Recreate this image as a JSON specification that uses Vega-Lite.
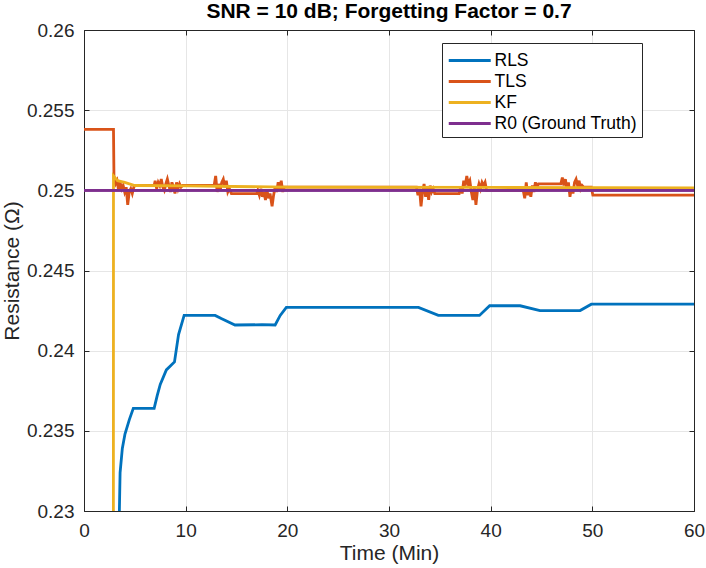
{
  "$schema": "https://vega.github.io/schema/vega-lite/v6.json",
  "width": 610,
  "height": 481,
  "autosize": {"type": "none"},
  "padding": {"left": 84, "top": 30, "right": 12, "bottom": 57},
  "background": "white",
  "title": {
    "text": "SNR = 10 dB; Forgetting Factor = 0.7",
    "font": "Liberation Sans",
    "fontSize": 21,
    "fontWeight": "bold",
    "color": "#000000",
    "anchor": "middle",
    "offset": -1
  },
  "config": {
    "font": "Liberation Sans",
    "view": {"stroke": "#262626", "strokeWidth": 1},
    "axis": {
      "domainColor": "#262626",
      "tickColor": "#262626",
      "labelColor": "#262626",
      "titleColor": "#262626",
      "gridColor": "#e6e6e6",
      "labelFont": "Liberation Sans",
      "titleFont": "Liberation Sans",
      "labelFontSize": 19,
      "titleFontSize": 21,
      "titleFontWeight": "normal",
      "labelFlush": false,
      "tickSize": -5
    }
  },
  "data": {
    "values": [
      {"t": 0, "r": 0.2, "s": "RLS"},
      {"t": 3.35, "r": 0.2, "s": "RLS"},
      {"t": 3.45, "r": 0.229, "s": "RLS"},
      {"t": 3.55, "r": 0.2324, "s": "RLS"},
      {"t": 3.77, "r": 0.2339, "s": "RLS"},
      {"t": 4.03, "r": 0.2348, "s": "RLS"},
      {"t": 4.46, "r": 0.2357, "s": "RLS"},
      {"t": 4.85, "r": 0.2364, "s": "RLS"},
      {"t": 6.9, "r": 0.2364, "s": "RLS"},
      {"t": 7.2, "r": 0.2372, "s": "RLS"},
      {"t": 7.5, "r": 0.2379, "s": "RLS"},
      {"t": 8.1, "r": 0.2388, "s": "RLS"},
      {"t": 8.9, "r": 0.2393, "s": "RLS"},
      {"t": 9.3, "r": 0.241, "s": "RLS"},
      {"t": 9.85, "r": 0.2422, "s": "RLS"},
      {"t": 12.9, "r": 0.2422, "s": "RLS"},
      {"t": 13.5, "r": 0.242, "s": "RLS"},
      {"t": 14.85, "r": 0.2416, "s": "RLS"},
      {"t": 17.5, "r": 0.24162, "s": "RLS"},
      {"t": 18.8, "r": 0.2416, "s": "RLS"},
      {"t": 19.3, "r": 0.2422, "s": "RLS"},
      {"t": 19.9, "r": 0.2427, "s": "RLS"},
      {"t": 32.9, "r": 0.2427, "s": "RLS"},
      {"t": 34.85, "r": 0.2422, "s": "RLS"},
      {"t": 38.9, "r": 0.2422, "s": "RLS"},
      {"t": 39.9, "r": 0.2428, "s": "RLS"},
      {"t": 42.9, "r": 0.2428, "s": "RLS"},
      {"t": 44.85, "r": 0.2425, "s": "RLS"},
      {"t": 48.8, "r": 0.2425, "s": "RLS"},
      {"t": 49.9, "r": 0.2429, "s": "RLS"},
      {"t": 60, "r": 0.2429, "s": "RLS"},

      {"t": 0, "r": 0.2538, "s": "TLS"},
      {"t": 2.9, "r": 0.2538, "s": "TLS"},
      {"t": 2.95, "r": 0.2507, "s": "TLS"},
      {"t": 3.1, "r": 0.2504, "s": "TLS"},
      {"t": 3.25, "r": 0.2506, "s": "TLS"},
      {"t": 3.4, "r": 0.25, "s": "TLS"},
      {"t": 3.55, "r": 0.2505, "s": "TLS"},
      {"t": 3.7, "r": 0.2501, "s": "TLS"},
      {"t": 3.85, "r": 0.2503, "s": "TLS"},
      {"t": 4.0, "r": 0.2499, "s": "TLS"},
      {"t": 4.15, "r": 0.2502, "s": "TLS"},
      {"t": 4.3, "r": 0.2491, "s": "TLS"},
      {"t": 4.45, "r": 0.2499, "s": "TLS"},
      {"t": 4.6, "r": 0.2501, "s": "TLS"},
      {"t": 4.75, "r": 0.2498, "s": "TLS"},
      {"t": 4.9, "r": 0.2502, "s": "TLS"},
      {"t": 5.0, "r": 0.2503, "s": "TLS"},
      {"t": 6.9, "r": 0.2503, "s": "TLS"},
      {"t": 7.0, "r": 0.2506, "s": "TLS"},
      {"t": 7.15, "r": 0.2501, "s": "TLS"},
      {"t": 7.3, "r": 0.2505, "s": "TLS"},
      {"t": 7.45, "r": 0.2503, "s": "TLS"},
      {"t": 7.6, "r": 0.2507, "s": "TLS"},
      {"t": 7.75, "r": 0.2502, "s": "TLS"},
      {"t": 7.9, "r": 0.25, "s": "TLS"},
      {"t": 8.05, "r": 0.2504, "s": "TLS"},
      {"t": 8.2, "r": 0.2507, "s": "TLS"},
      {"t": 8.35, "r": 0.2503, "s": "TLS"},
      {"t": 8.5, "r": 0.2499, "s": "TLS"},
      {"t": 8.65, "r": 0.2505, "s": "TLS"},
      {"t": 8.8, "r": 0.2502, "s": "TLS"},
      {"t": 8.95, "r": 0.2498, "s": "TLS"},
      {"t": 9.1, "r": 0.2505, "s": "TLS"},
      {"t": 9.25, "r": 0.2501, "s": "TLS"},
      {"t": 9.4, "r": 0.2504, "s": "TLS"},
      {"t": 9.55, "r": 0.2502, "s": "TLS"},
      {"t": 9.7, "r": 0.2503, "s": "TLS"},
      {"t": 12.8, "r": 0.2503, "s": "TLS"},
      {"t": 12.95, "r": 0.2509, "s": "TLS"},
      {"t": 13.1, "r": 0.2499, "s": "TLS"},
      {"t": 13.25, "r": 0.2504, "s": "TLS"},
      {"t": 13.4, "r": 0.25, "s": "TLS"},
      {"t": 13.55, "r": 0.2505, "s": "TLS"},
      {"t": 13.7, "r": 0.2507, "s": "TLS"},
      {"t": 13.85, "r": 0.2502, "s": "TLS"},
      {"t": 14.0, "r": 0.2506, "s": "TLS"},
      {"t": 14.15, "r": 0.2499, "s": "TLS"},
      {"t": 14.3, "r": 0.2501, "s": "TLS"},
      {"t": 14.5, "r": 0.2498, "s": "TLS"},
      {"t": 17.0, "r": 0.2498, "s": "TLS"},
      {"t": 17.1, "r": 0.25, "s": "TLS"},
      {"t": 17.25, "r": 0.2497, "s": "TLS"},
      {"t": 17.4, "r": 0.2501, "s": "TLS"},
      {"t": 17.55, "r": 0.2496, "s": "TLS"},
      {"t": 17.7, "r": 0.2499, "s": "TLS"},
      {"t": 17.85, "r": 0.2494, "s": "TLS"},
      {"t": 18.0, "r": 0.25, "s": "TLS"},
      {"t": 18.15, "r": 0.2495, "s": "TLS"},
      {"t": 18.3, "r": 0.2498, "s": "TLS"},
      {"t": 18.5, "r": 0.249, "s": "TLS"},
      {"t": 18.65, "r": 0.2497, "s": "TLS"},
      {"t": 18.8, "r": 0.2502, "s": "TLS"},
      {"t": 18.95, "r": 0.2499, "s": "TLS"},
      {"t": 19.1, "r": 0.2505, "s": "TLS"},
      {"t": 19.25, "r": 0.25, "s": "TLS"},
      {"t": 19.4, "r": 0.2506, "s": "TLS"},
      {"t": 19.55, "r": 0.2499, "s": "TLS"},
      {"t": 19.7, "r": 0.2502, "s": "TLS"},
      {"t": 32.7, "r": 0.2502, "s": "TLS"},
      {"t": 32.85, "r": 0.2497, "s": "TLS"},
      {"t": 33.0, "r": 0.2501, "s": "TLS"},
      {"t": 33.15, "r": 0.249, "s": "TLS"},
      {"t": 33.3, "r": 0.2499, "s": "TLS"},
      {"t": 33.45, "r": 0.2504, "s": "TLS"},
      {"t": 33.6, "r": 0.2496, "s": "TLS"},
      {"t": 33.75, "r": 0.2502, "s": "TLS"},
      {"t": 33.9, "r": 0.2494, "s": "TLS"},
      {"t": 34.05, "r": 0.2503, "s": "TLS"},
      {"t": 34.2, "r": 0.2499, "s": "TLS"},
      {"t": 34.35, "r": 0.2501, "s": "TLS"},
      {"t": 34.5, "r": 0.2498, "s": "TLS"},
      {"t": 36.9, "r": 0.2498, "s": "TLS"},
      {"t": 37.05, "r": 0.2502, "s": "TLS"},
      {"t": 37.2, "r": 0.2498, "s": "TLS"},
      {"t": 37.35, "r": 0.2506, "s": "TLS"},
      {"t": 37.5, "r": 0.2503, "s": "TLS"},
      {"t": 37.65, "r": 0.2509, "s": "TLS"},
      {"t": 37.8, "r": 0.2504, "s": "TLS"},
      {"t": 37.95, "r": 0.2506, "s": "TLS"},
      {"t": 38.1, "r": 0.2499, "s": "TLS"},
      {"t": 38.25, "r": 0.2494, "s": "TLS"},
      {"t": 38.4, "r": 0.2502, "s": "TLS"},
      {"t": 38.55, "r": 0.2491, "s": "TLS"},
      {"t": 38.7, "r": 0.25, "s": "TLS"},
      {"t": 38.85, "r": 0.2504, "s": "TLS"},
      {"t": 39.0, "r": 0.2501, "s": "TLS"},
      {"t": 39.15, "r": 0.2505, "s": "TLS"},
      {"t": 39.3, "r": 0.2503, "s": "TLS"},
      {"t": 39.45, "r": 0.2505, "s": "TLS"},
      {"t": 39.6, "r": 0.25, "s": "TLS"},
      {"t": 43.2, "r": 0.25, "s": "TLS"},
      {"t": 43.35, "r": 0.2495, "s": "TLS"},
      {"t": 43.5, "r": 0.2505, "s": "TLS"},
      {"t": 43.65, "r": 0.2497, "s": "TLS"},
      {"t": 43.8, "r": 0.2501, "s": "TLS"},
      {"t": 43.95, "r": 0.2496, "s": "TLS"},
      {"t": 44.1, "r": 0.2503, "s": "TLS"},
      {"t": 44.25, "r": 0.2499, "s": "TLS"},
      {"t": 44.4, "r": 0.2505, "s": "TLS"},
      {"t": 44.55, "r": 0.2502, "s": "TLS"},
      {"t": 44.7, "r": 0.2504, "s": "TLS"},
      {"t": 46.9, "r": 0.2504, "s": "TLS"},
      {"t": 47.05, "r": 0.2508, "s": "TLS"},
      {"t": 47.2, "r": 0.2503, "s": "TLS"},
      {"t": 47.35, "r": 0.2507, "s": "TLS"},
      {"t": 47.5, "r": 0.2501, "s": "TLS"},
      {"t": 47.65, "r": 0.2505, "s": "TLS"},
      {"t": 47.8, "r": 0.2496, "s": "TLS"},
      {"t": 47.95, "r": 0.2502, "s": "TLS"},
      {"t": 48.1, "r": 0.2498, "s": "TLS"},
      {"t": 48.25, "r": 0.2505, "s": "TLS"},
      {"t": 48.4, "r": 0.2507, "s": "TLS"},
      {"t": 48.55, "r": 0.2503, "s": "TLS"},
      {"t": 48.7, "r": 0.2506, "s": "TLS"},
      {"t": 48.85, "r": 0.2501, "s": "TLS"},
      {"t": 49.0, "r": 0.2503, "s": "TLS"},
      {"t": 49.15, "r": 0.2502, "s": "TLS"},
      {"t": 49.9, "r": 0.2502, "s": "TLS"},
      {"t": 50.05, "r": 0.2497, "s": "TLS"},
      {"t": 60, "r": 0.2497, "s": "TLS"},

      {"t": 0, "r": 0.2, "s": "KF"},
      {"t": 2.88, "r": 0.2, "s": "KF"},
      {"t": 2.9, "r": 0.2509, "s": "KF"},
      {"t": 3.3, "r": 0.2506, "s": "KF"},
      {"t": 4.0, "r": 0.2505, "s": "KF"},
      {"t": 5.0, "r": 0.2503, "s": "KF"},
      {"t": 10, "r": 0.25028, "s": "KF"},
      {"t": 20, "r": 0.2502, "s": "KF"},
      {"t": 40, "r": 0.25018, "s": "KF"},
      {"t": 60, "r": 0.25015, "s": "KF"},

      {"t": 0, "r": 0.25, "s": "R0 (Ground Truth)"},
      {"t": 60, "r": 0.25, "s": "R0 (Ground Truth)"}
    ]
  },
  "layer": [
    {
      "mark": {"type": "line", "clip": true, "strokeWidth": 2.8},
      "encoding": {
        "x": {
          "field": "t",
          "type": "quantitative",
          "title": "Time (Min)",
          "scale": {"domain": [0, 60], "nice": false},
          "axis": {"values": [0, 10, 20, 30, 40, 50, 60], "grid": true, "labelPadding": 15, "titlePadding": 2}
        },
        "y": {
          "field": "r",
          "type": "quantitative",
          "title": "Resistance (Ω)",
          "scale": {"domain": [0.23, 0.26], "nice": false, "zero": false},
          "axis": {
            "values": [0.23, 0.235, 0.24, 0.245, 0.25, 0.255, 0.26],
            "format": "~g",
            "grid": true,
            "labelPadding": 15,
            "titlePadding": 4
          }
        },
        "color": {
          "field": "s",
          "type": "nominal",
          "sort": null,
          "scale": {
            "domain": ["RLS", "TLS", "KF", "R0 (Ground Truth)"],
            "range": ["#0072BD", "#D95319", "#EDB120", "#7E2F8E"]
          },
          "legend": {
            "orient": "none",
            "legendX": 358,
            "legendY": 13,
            "title": null,
            "symbolType": "M-1,0H2.907",
            "symbolSize": 462,
            "symbolStrokeWidth": 3,
            "labelFontSize": 17.5,
            "labelColor": "#000000",
            "labelOffset": 22.5,
            "labelLimit": 300,
            "strokeColor": "#262626",
            "fillColor": "white",
            "padding": 5,
            "rowPadding": 0
          }
        }
      }
    },
    {
      "transform": [{"filter": "datum.s === 'R0 (Ground Truth)'"}],
      "mark": {"type": "line", "clip": true, "strokeWidth": 2.8, "color": "#7E2F8E"},
      "encoding": {
        "x": {
          "field": "t",
          "type": "quantitative",
          "scale": {"domain": [0, 60], "nice": false},
          "axis": {"orient": "top", "values": [0, 10, 20, 30, 40, 50, 60], "labels": false, "grid": false, "title": null}
        },
        "y": {
          "field": "r",
          "type": "quantitative",
          "scale": {"domain": [0.23, 0.26], "nice": false, "zero": false},
          "axis": {"orient": "right", "values": [0.23, 0.235, 0.24, 0.245, 0.25, 0.255, 0.26], "labels": false, "grid": false, "title": null}
        }
      }
    }
  ],
  "resolve": {"axis": {"x": "independent", "y": "independent"}}
}
